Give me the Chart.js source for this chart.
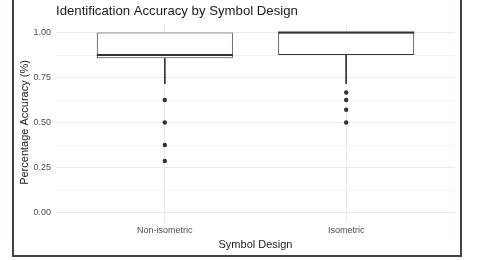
<!DOCTYPE html>
<html>
<head>
<meta charset="utf-8">
<script src="https://cdn.jsdelivr.net/npm/chart.js@4"></script>
<style>
  body { margin: 0; background: #fff; }
  #wrap { position: relative; width: 487px; height: 260px; }
  #frame {
    position: absolute; left: 12px; top: -4px; width: 446px; height: 257px;
    border: 2px solid #3d444c;
  }
  #chart { position: absolute; left: 0; top: 0; }
</style>
</head>
<body>
<div id="wrap">
  <div id="frame"></div>
  <canvas id="chart" width="487" height="260"></canvas>
</div>
<script>
// Box plot summary
const categories = ["Non-isometric", "Isometric"];
const lowerWhisker = [0.714, 0.714];
const q1 = [0.857, 0.875];
const median = [0.875, 1.0];
const q3 = [1.0, 1.0];
const upperWhisker = [1.0, 1.0];
const outliers = [
  [0.625, 0.5, 0.375, 0.286],
  [0.667, 0.625, 0.571, 0.5],
];
const yTicks = [0, 0.125, 0.25, 0.375, 0.5, 0.625, 0.75, 0.875, 1];

const boxWidth = 0.75;
const font = "'Liberation Sans', Arial, sans-serif";

// whisker and median segments, with a null gap between boxes
const whiskerPts = [];
const medianPts = [];
categories.forEach((c, i) => {
  const x = i + 1;
  whiskerPts.push({ x: x, y: q1[i] }, { x: x, y: lowerWhisker[i] }, { x: x + 0.01, y: null });
  whiskerPts.push({ x: x, y: q3[i] }, { x: x, y: upperWhisker[i] }, { x: x + 0.02, y: null });
  medianPts.push({ x: x - boxWidth / 2, y: median[i] }, { x: x + boxWidth / 2, y: median[i] }, { x: x + 0.5, y: null });
});

const outlierPts = [];
outliers.forEach((list, i) => {
  list.forEach((v) => outlierPts.push({ x: i + 1, y: v }));
});

new Chart(document.getElementById("chart"), {
  type: "bar",
  data: {
    datasets: [
      {
        type: "line",
        data: medianPts,
        borderColor: "#333333",
        borderWidth: 2,
        pointRadius: 0,
        spanGaps: false,
        order: 0,
      },
      {
        type: "scatter",
        data: outlierPts,
        pointRadius: 2.2,
        pointBackgroundColor: "#333333",
        pointBorderWidth: 0,
        order: 1,
      },
      {
        type: "bar",
        data: categories.map((c, i) => ({ x: i + 1, y: [q1[i], q3[i]] })),
        backgroundColor: "#ffffff",
        borderColor: "#333333",
        borderWidth: 1,
        borderSkipped: false,
        barPercentage: boxWidth,
        categoryPercentage: 1,
        grouped: false,
        order: 2,
      },
      {
        type: "line",
        data: whiskerPts,
        borderColor: "#333333",
        borderWidth: 1,
        pointRadius: 0,
        spanGaps: false,
        order: 3,
      },
    ],
  },
  options: {
    responsive: false,
    animation: false,
    layout: { padding: { left: 14, right: 32, top: 0, bottom: 0 } },
    plugins: {
      legend: { display: false },
      tooltip: { enabled: false },
      title: {
        display: true,
        text: "Identification Accuracy by Symbol Design",
        align: "start",
        fullSize: false,
        color: "#1a1a1a",
        font: { family: font, size: 13.2, weight: "normal" },
        padding: { top: 3.2, bottom: 4.46 },
      },
    },
    scales: {
      x: {
        type: "linear",
        min: 0.4,
        max: 2.6,
        offset: false,
        afterBuildTicks: (s) => {
          s.ticks = categories.map((c, i) => ({ value: i + 1 }));
        },
        afterFit: (s) => { s.height = 38.5; },
        ticks: {
          callback: (v) => categories[v - 1],
          color: "#4d4d4d",
          font: { family: font, size: 9 },
          padding: 4,
          maxRotation: 0,
          autoSkip: false,
        },
        grid: { color: "#ebebeb", lineWidth: 1, drawTicks: false, offset: false },
        border: { display: false },
        title: {
          display: true,
          text: "Symbol Design",
          color: "#1a1a1a",
          font: { family: font, size: 11 },
          padding: { top: 0, bottom: 8.4 },
        },
      },
      y: {
        min: -0.05,
        max: 1.05,
        afterBuildTicks: (s) => {
          s.ticks = yTicks.map((v) => ({ value: v }));
        },
        afterFit: (s) => { s.width = 42; },
        ticks: {
          callback: (v) => (Math.abs(v * 4 - Math.round(v * 4)) < 1e-6 ? v.toFixed(2) : ""),
          color: "#4d4d4d",
          font: { family: font, size: 9 },
          padding: 5,
          autoSkip: false,
        },
        grid: {
          color: "#ebebeb",
          lineWidth: (ctx) => {
            const v = ctx.tick ? ctx.tick.value : 0;
            return Math.abs(v * 4 - Math.round(v * 4)) < 1e-6 ? 1 : 0.6;
          },
          drawTicks: false,
        },
        border: { display: false },
        title: {
          display: true,
          text: "Percentage Accuracy (%)",
          color: "#1a1a1a",
          font: { family: font, size: 11 },
          padding: { top: 4.4, bottom: 0 },
        },
      },
    },
  },
});
</script>
</body>
</html>
